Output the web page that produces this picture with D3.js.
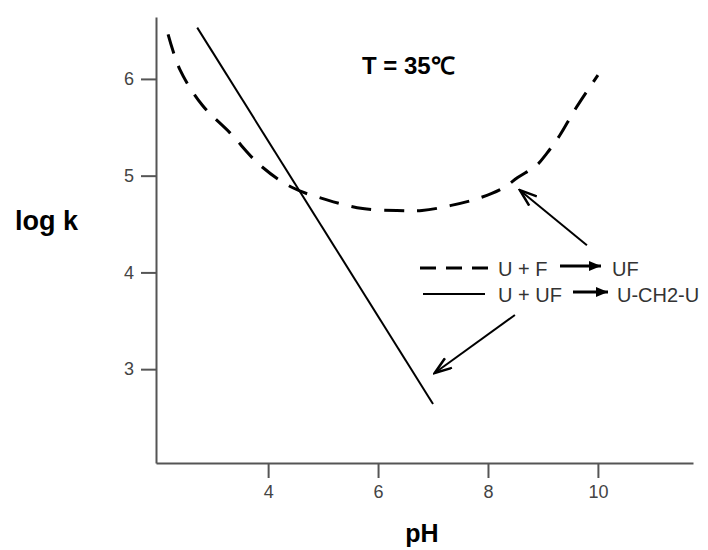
<!DOCTYPE html>
<html>
<head>
<meta charset="utf-8">
<script src="https://cdn.jsdelivr.net/npm/d3@7"></script>
<style>
  body { margin: 0; background: #fff; }
  svg { font-family: Arial, "Liberation Sans", sans-serif; }
</style>
</head>
<body>
<div id="chart"></div>
<script>
// U + F -> UF  (dashed curve)
const phUF   = [2.18, 2.40, 2.80, 3.31, 3.85, 4.43, 5.07, 5.72, 6.34, 6.80, 7.31, 7.85, 8.27, 8.54, 8.89, 9.07, 9.31, 9.58, 10.0];
const logkUF = [6.46, 6.09, 5.73, 5.44, 5.11, 4.88, 4.75, 4.66, 4.64, 4.64, 4.69, 4.77, 4.87, 4.98, 5.11, 5.23, 5.42, 5.68, 6.04];

// U + UF -> U-CH2-U  (solid line)
const phUU   = [2.71, 7.00];
const logkUU = [6.53, 2.64];

const xTicks = [4, 6, 8, 10];
const yTicks = [3, 4, 5, 6];

// pointer arrows, [tail, tip] in data units
const pointerUF = [[9.80, 4.28], [8.58, 4.85]];
const pointerUU = [[8.49, 3.56], [7.03, 2.96]];

const W = 708, H = 550;
const font = "Arial, 'Liberation Sans', sans-serif";

const x = d3.scaleLinear().domain([1.96, 11.73]).range([156, 693]);
const y = d3.scaleLinear().domain([2.03, 6.64]).range([463, 17]);

const svg = d3.select("#chart").append("svg")
    .attr("width", W)
    .attr("height", H);

const defs = svg.append("defs");
// open V head for pointer arrows
defs.append("marker")
    .attr("id", "vhead")
    .attr("markerUnits", "userSpaceOnUse")
    .attr("viewBox", "0 0 20 14")
    .attr("refX", 18).attr("refY", 7)
    .attr("markerWidth", 20).attr("markerHeight", 14)
    .attr("orient", "auto")
    .append("path")
    .attr("d", "M1,1 L18,7 L1,13")
    .attr("fill", "none")
    .attr("stroke", "#000")
    .attr("stroke-width", 2.5);
// filled head for legend arrows
defs.append("marker")
    .attr("id", "fhead")
    .attr("markerUnits", "userSpaceOnUse")
    .attr("viewBox", "0 0 12 10")
    .attr("refX", 12).attr("refY", 5)
    .attr("markerWidth", 12).attr("markerHeight", 10)
    .attr("orient", "auto")
    .append("path")
    .attr("d", "M0,0 L12,5 L0,10 z")
    .attr("fill", "#000");

// axes
const xAxis = svg.append("g")
    .attr("transform", `translate(0,${y.range()[0]})`)
    .call(d3.axisBottom(x).tickValues(xTicks).tickFormat(d3.format("d"))
        .tickSize(15).tickPadding(7).tickSizeOuter(0));
const yAxis = svg.append("g")
    .attr("transform", `translate(${x.range()[0]},0)`)
    .call(d3.axisLeft(y).tickValues(yTicks).tickFormat(d3.format("d"))
        .tickSize(15).tickPadding(7).tickSizeOuter(0));

[xAxis, yAxis].forEach(function(a) {
    a.attr("font-family", font).attr("font-size", 18);
    a.select(".domain").attr("stroke", "#555").attr("stroke-width", 2);
    a.selectAll(".tick line").attr("stroke", "#555").attr("stroke-width", 2);
    a.selectAll(".tick text").attr("fill", "#444");
});

// curves
const dataUF = phUF.map((p, i) => [p, logkUF[i]]);
const dataUU = phUU.map((p, i) => [p, logkUU[i]]);

const line = d3.line()
    .x(d => x(d[0]))
    .y(d => y(d[1]))
    .curve(d3.curveCatmullRom);

svg.append("path")
    .datum(dataUF)
    .attr("d", line)
    .attr("fill", "none")
    .attr("stroke", "#000")
    .attr("stroke-width", 3)
    .attr("stroke-dasharray", "20,13");

svg.append("path")
    .datum(dataUU)
    .attr("d", d3.line().x(d => x(d[0])).y(d => y(d[1])))
    .attr("fill", "none")
    .attr("stroke", "#000")
    .attr("stroke-width", 2);

// pointer arrows
[pointerUF, pointerUU].forEach(function(p) {
    svg.append("line")
        .attr("x1", x(p[0][0])).attr("y1", y(p[0][1]))
        .attr("x2", x(p[1][0])).attr("y2", y(p[1][1]))
        .attr("stroke", "#000")
        .attr("stroke-width", 2)
        .attr("marker-end", "url(#vhead)");
});

// legend
const leg = svg.append("g");
leg.append("line")
    .attr("x1", 420).attr("y1", 268).attr("x2", 490).attr("y2", 268)
    .attr("stroke", "#000").attr("stroke-width", 3)
    .attr("stroke-dasharray", "16,10");
leg.append("text").attr("x", 498).attr("y", 276).text("U + F");
leg.append("line")
    .attr("x1", 560).attr("y1", 266).attr("x2", 601).attr("y2", 266)
    .attr("stroke", "#000").attr("stroke-width", 3)
    .attr("marker-end", "url(#fhead)");
leg.append("text").attr("x", 612).attr("y", 276).text("UF");

leg.append("line")
    .attr("x1", 423).attr("y1", 294).attr("x2", 485).attr("y2", 294)
    .attr("stroke", "#000").attr("stroke-width", 2);
leg.append("text").attr("x", 498).attr("y", 302).text("U + UF");
leg.append("line")
    .attr("x1", 573).attr("y1", 292).attr("x2", 608).attr("y2", 292)
    .attr("stroke", "#000").attr("stroke-width", 3)
    .attr("marker-end", "url(#fhead)");
leg.append("text").attr("x", 617).attr("y", 302).text("U-CH2-U");

leg.selectAll("text")
    .attr("fill", "#333")
    .style("font-size", "20px");

// titles
svg.append("text")
    .attr("x", 362).attr("y", 74)
    .style("font-size", "24px")
    .style("font-weight", "bold")
    .text("T = 35℃");

svg.append("text")
    .attr("x", 15).attr("y", 230)
    .style("font-size", "27px")
    .style("font-weight", "bold")
    .text("log k");

svg.append("text")
    .attr("x", 422).attr("y", 542)
    .attr("text-anchor", "middle")
    .style("font-size", "25px")
    .style("font-weight", "bold")
    .text("pH");
</script>
</body>
</html>
